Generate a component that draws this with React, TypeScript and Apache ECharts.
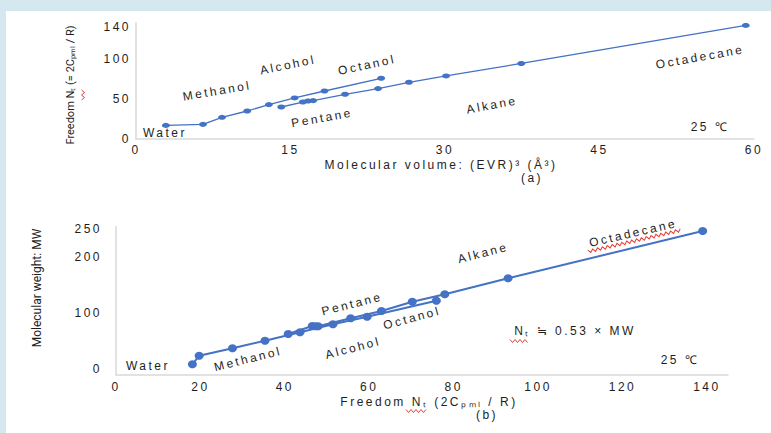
import React, { useEffect, useRef } from "react";
import * as echarts from "echarts";

// (a) Freedom Nt vs molecular volume
const alcoholVolume = [2.9, 6.5, 8.35, 10.8, 12.9, 15.4, 18.3, 23.8];
const alcoholFreedomA = [17.0, 18.3, 27.1, 35.0, 43.0, 51.3, 60.0, 75.9];
const alkaneVolume = [14.1, 16.2, 16.7, 17.2, 20.3, 23.5, 26.5, 30.1, 37.4, 59.2];
const alkaneFreedomA = [40.0, 46.2, 47.5, 48.0, 55.9, 63.0, 70.9, 78.8, 94.4, 142.0];

// (b) Molecular weight vs freedom Nt
const alcoholFreedomB = [18.1, 19.7, 27.6, 35.3, 43.6, 51.4, 59.5, 75.9];
const alcoholMW = [19.1, 34.5, 47.7, 61.3, 76.3, 90.5, 104.1, 132.7];
const alkaneFreedomB = [40.8, 46.5, 47.3, 47.9, 55.6, 62.9, 70.2, 77.9, 92.9, 139.0];
const alkaneMW = [73.2, 87.5, 87.2, 87.0, 101.3, 114.3, 130.9, 144.1, 172.7, 257.1];

const topYTicks = [0, 50, 100, 140];
const bottomXTicks = [0, 20, 40, 60, 80, 100, 120, 140];
const bottomYTicks = [0, 100, 200, 250];

const BLUE = "#4472c4";
const TXT = "#1e1e1e";
const FONT = "Liberation Sans";
const NARROW = "Roboto";

function zip(xs: number[], ys: number[]) {
  return xs.map((x, i) => [x, ys[i]]);
}

function zig(x0: number, x1: number, y: number, amp = 1.5, step = 2.5) {
  const pts: number[][] = [];
  let k = 0;
  for (let x = x0; x <= x1 + 0.01; x += step) {
    pts.push([x, y + (k % 2 === 0 ? -amp : amp)]);
    k++;
  }
  return pts;
}

function label(text: string, x: number, y: number, deg = 0, size = 12) {
  return {
    type: "text",
    x,
    y,
    rotation: (deg * Math.PI) / 180,
    silent: true,
    style: {
      text,
      fontSize: size,
      fontFamily: FONT,
      fill: TXT,
      align: "center",
      verticalAlign: "middle",
    },
  };
}

const axisLineStyle = { lineStyle: { color: "#d9d9d9", width: 1.5 } };

export default function App() {
  const ref = useRef<HTMLDivElement>(null);

  useEffect(() => {
    document.body.style.margin = "0";
    if (!ref.current) return;
    const chart = echarts.init(ref.current, undefined, { renderer: "svg" });

    const baseLabel = { fontSize: 12, color: TXT, fontFamily: FONT };

    chart.setOption({
      animation: false,
      backgroundColor: "#ffffff",
      grid: [
        { left: 136, top: 23, width: 618, height: 116, outerBoundsMode: "none" },
        { left: 116, top: 226.6, width: 612, height: 148.4, outerBoundsMode: "none" },
      ],
      xAxis: [
        {
          type: "value",
          gridIndex: 0,
          min: 0,
          max: 60,
          interval: 15,
          axisLine: { show: true, ...axisLineStyle },
          axisTick: { show: false },
          splitLine: { show: false },
          axisLabel: { ...baseLabel, margin: 5 },
        },
        {
          type: "value",
          gridIndex: 1,
          min: 0,
          max: 145,
          interval: 20,
          axisLine: { show: true, ...axisLineStyle },
          axisTick: { show: false },
          splitLine: { show: false },
          axisLabel: {
            ...baseLabel,
            margin: 6,
            formatter: (v: number) => (bottomXTicks.includes(v) ? String(v) : ""),
          },
        },
      ],
      yAxis: [
        {
          type: "value",
          gridIndex: 0,
          min: 0,
          max: 145,
          interval: 5,
          axisLine: { show: true, ...axisLineStyle },
          axisTick: { show: false },
          splitLine: { show: false },
          axisLabel: {
            ...baseLabel,
            margin: 5,
            formatter: (v: number) => (topYTicks.includes(v) ? String(v) : ""),
          },
        },
        {
          type: "value",
          gridIndex: 1,
          min: 0,
          max: 265,
          interval: 50,
          axisLine: { show: true, ...axisLineStyle },
          axisTick: { show: false },
          splitLine: { show: false },
          axisLabel: {
            ...baseLabel,
            margin: 14,
            verticalAlign: "bottom",
            formatter: (v: number) => (bottomYTicks.includes(v) ? String(v) : ""),
          },
        },
      ],
      series: [
        {
          name: "Alcohol (a)",
          type: "line",
          xAxisIndex: 0,
          yAxisIndex: 0,
          data: zip(alcoholVolume, alcoholFreedomA),
          symbol: "circle",
          symbolSize: [8, 5],
          itemStyle: { color: BLUE },
          lineStyle: { color: BLUE, width: 1.3 },
        },
        {
          name: "Alkane (a)",
          type: "line",
          xAxisIndex: 0,
          yAxisIndex: 0,
          data: zip(alkaneVolume, alkaneFreedomA),
          symbol: "circle",
          symbolSize: [8, 5],
          itemStyle: { color: BLUE },
          lineStyle: { color: BLUE, width: 1.3 },
        },
        {
          name: "Alcohol (b)",
          type: "line",
          xAxisIndex: 1,
          yAxisIndex: 1,
          data: zip(alcoholFreedomB, alcoholMW),
          symbol: "circle",
          symbolSize: [9, 8],
          itemStyle: { color: BLUE },
          lineStyle: { color: BLUE, width: 2 },
        },
        {
          name: "Alkane (b)",
          type: "line",
          xAxisIndex: 1,
          yAxisIndex: 1,
          data: zip(alkaneFreedomB, alkaneMW),
          symbol: "circle",
          symbolSize: [9, 8],
          itemStyle: { color: BLUE },
          lineStyle: { color: BLUE, width: 2 },
        },
      ],
      graphic: [
        { type: "rect", silent: true, shape: { x: 0, y: 0, width: 771, height: 11 }, style: { fill: "#d6e8ef" } },
        { type: "rect", silent: true, shape: { x: 0, y: 0, width: 6, height: 433 }, style: { fill: "#d6e8ef" } },

        // (a) annotations
        label("Water", 165, 133),
        label("Methanol", 217, 91, 9.5),
        label("Alcohol", 288, 65, 11.5),
        label("Octanol", 367, 65, 12),
        label("Pentane", 322, 118, 10),
        label("Alkane", 492, 105, 10.5),
        label("Octadecane", 700, 57, 10),
        label("25 ℃", 710, 127),
        label("Molecular volume: (EVR)³ (Å³)", 441, 165),
        label("(a)", 532, 178),
        {
          type: "text",
          x: 70,
          y: 85,
          rotation: Math.PI / 2,
          silent: true,
          style: {
            text: "Freedom Nₜ (= 2Cₚₘₗ / R)",
            fontSize: 11,
            fontFamily: NARROW,
            fill: TXT,
            align: "center",
            verticalAlign: "middle",
          },
        },
        { type: "polyline", silent: true, shape: { points: zig(90, 100, 0).map(([a, b]) => [b + 83, a]) }, style: { stroke: "#e0403a", lineWidth: 1, fill: null } },

        // (b) annotations
        label("Water", 148, 366),
        label("Methanol", 248, 359, 14),
        label("Alcohol", 353, 348, 14.5),
        label("Pentane", 352, 304, 14),
        label("Octanol", 412, 318, 15),
        label("Alkane", 483, 253, 14.5),
        {
          type: "group",
          x: 633,
          y: 233,
          rotation: (13 * Math.PI) / 180,
          children: [
            label("Octadecane", 0, 0),
            { type: "polyline", silent: true, shape: { points: zig(-48, 48, 8) }, style: { stroke: "#e0403a", lineWidth: 1, fill: null } },
          ],
        },
        label("Nₜ ≒ 0.53 × MW", 575, 331),
        { type: "polyline", silent: true, shape: { points: zig(510, 528, 341) }, style: { stroke: "#e0403a", lineWidth: 1, fill: null } },
        label("25 ℃", 680, 360),
        label("Freedom Nₜ (2Cₚₘₗ / R)", 429, 402),
        { type: "polyline", silent: true, shape: { points: zig(406, 426, 411) }, style: { stroke: "#e0403a", lineWidth: 1, fill: null } },
        label("(b)", 487, 415),
        {
          type: "text",
          x: 37,
          y: 288,
          rotation: Math.PI / 2,
          silent: true,
          style: {
            text: "Molecular weight: MW",
            fontSize: 12,
            fontFamily: NARROW,
            fill: TXT,
            align: "center",
            verticalAlign: "middle",
          },
        },
      ],
    });

    return () => chart.dispose();
  }, []);

  return (
    <>
      <style>{`.chartbox text[style*="Liberation Sans"]{letter-spacing:2.5px;}`}</style>
      <div className="chartbox" ref={ref} style={{ width: 771, height: 433 }} />
    </>
  );
}
